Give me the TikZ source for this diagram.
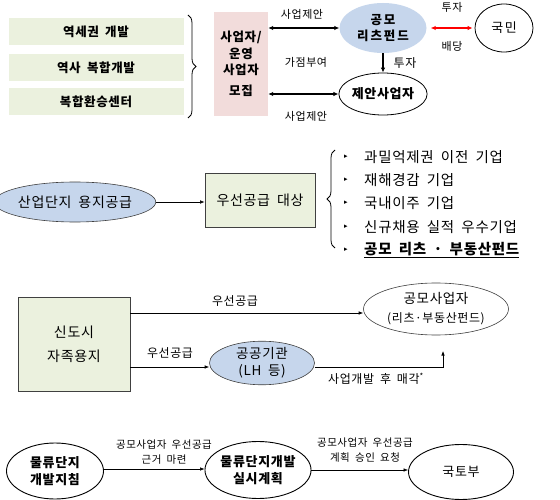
\documentclass[tikz,border=0pt]{standalone}
\usepackage{fontspec}
\setmainfont{Noto Sans CJK KR}[LetterSpace=5,WordSpace=1.8]
\newfontfamily\symfont{DejaVu Sans}
\usetikzlibrary{shapes.geometric,arrows.meta,decorations.pathreplacing}
\definecolor{lgreen}{HTML}{EBF1DE}
\definecolor{lpink}{HTML}{F2DCDB}
\definecolor{lblue}{HTML}{C6D6EC}
\definecolor{bord}{HTML}{404040}
\tikzset{
  gbox/.style={fill=lgreen, minimum width=175pt, minimum height=27pt, inner sep=0pt, font=\fontsize{12.5}{14}\selectfont\bfseries},
  ell/.style={ellipse, inner sep=0pt, align=center},
  darr/.style={line width=1.6pt, {Latex[length=5pt,width=4.5pt]}-{Latex[length=5pt,width=4.5pt]}},
  thk/.style={line width=1.6pt, -{Latex[length=5pt,width=4.5pt]}},
  arr/.style={line width=0.6pt, -{Latex[length=4.5pt,width=3.5pt]}},
  lbl/.style={inner sep=0pt, font=\fontsize{11}{13}\selectfont},
  mlbl/.style={inner sep=0pt, font=\fontsize{12}{14}\selectfont},
  slbl/.style={inner sep=0pt, font=\fontsize{10.5}{15}\selectfont, align=center},
  brace/.style={decorate, decoration={brace, amplitude=8pt}, line width=0.8pt},
  item/.style={anchor=west, inner sep=0pt, font=\fontsize{14.5}{16}\selectfont},
  bul/.style={inner sep=0pt, font=\symfont\fontsize{7}{8}\selectfont}
}
\begin{document}
\begin{tikzpicture}[x=1pt,y=-1pt]
\useasboundingbox[fill=white] (0,0) rectangle (560,500);

% ---------- Section 1 ----------
\node[gbox] (g1) at (96,31.5) {역세권 개발};
\node[gbox] (g2) at (96,67.5) {역사 복합개발};
\node[gbox] (g3) at (96,102) {복합환승센터};
\draw[brace] (188,15) -- (188,118);
\node[fill=lpink, minimum width=54pt, minimum height=104pt, inner sep=0pt, align=center,
      font=\fontsize{12.5}{16}\selectfont\bfseries] (pk) at (241,64)
      {사업자/\\[1pt]운영\\사업자\\[5pt]모집};
\node[ell, fill=lblue, minimum width=87pt, minimum height=50pt,
      font=\fontsize{12.5}{16}\selectfont\bfseries\addfontfeatures{LetterSpace=15}] (fund) at (383,28) {공모\\리츠펀드};
\node[ell, draw=black, line width=0.8pt, minimum width=58pt, minimum height=48pt,
      font=\fontsize{13}{15}\selectfont\addfontfeatures{LetterSpace=12}] (min) at (504,28) {국민};
\node[ell, draw=black, line width=0.8pt, minimum width=87pt, minimum height=42pt,
      font=\fontsize{13}{15}\selectfont\bfseries] (prop) at (383,94) {제안사업자};
\draw[darr] (pk.east |- fund) -- (fund.west);
\draw[darr] (pk.east |- prop) -- (prop.west);
\draw[darr, red] (fund.east) ++(4,0) coordinate (rs) (rs) -- ([xshift=-2pt]min.west);
\draw[thk] (fund.south) -- (prop.north);
\node[lbl] (l1) at (302,14) {사업제안};
\node[lbl] (l2) at (306,62) {가점부여};
\node[lbl] (l3) at (306,116) {사업제안};
\node[lbl] (l4) at (452,7) {투자};
\node[lbl] (l5) at (452,46) {배당};
\node[lbl, font=\fontsize{12}{14}\selectfont] (l6) at (405,63) {투자};

% ---------- Section 2 ----------
\node[ell, draw=bord, fill=lblue, line width=0.6pt, minimum width=140pt, minimum height=40pt,
      font=\fontsize{14}{15}\selectfont] (sup) at (75,202) {산업단지 용지공급};
\node[draw=bord, fill=lgreen, line width=0.8pt, minimum width=110pt, minimum height=54pt,
      font=\fontsize{14}{15}\selectfont] (tgt) at (260,200) {우선공급 대상};
\draw[arr] (sup.east) -- (tgt.west |- sup.east);
\draw[brace] (335,248) -- (335,150);
\node[bul] (b1) at (346,157) {▸};
\node[bul] (b2) at (346,180) {▸};
\node[bul] (b3) at (346,203) {▸};
\node[bul] (b4) at (346,227) {▸};
\node[bul] (b5) at (346,250) {▸};
\node[item] (i1) at (364,157) {과밀억제권 이전 기업};
\node[item] (i2) at (364,180) {재해경감 기업};
\node[item] (i3) at (364,203) {국내이주 기업};
\node[item] (i4) at (364,227) {신규채용 실적 우수기업};
\node[item, font=\fontsize{14.5}{16}\selectfont\bfseries] (i5) at (364,250) {\underline{공모 리츠 · 부동산펀드}};

% ---------- Section 3 ----------
\node[draw=bord, fill=lgreen, line width=0.6pt, minimum width=112pt, minimum height=94pt, align=center,
      font=\fontsize{14}{24}\selectfont] (nt) at (74,344) {신도시\\자족용지};
\node[ell, draw=bord, line width=0.6pt, minimum width=145pt, minimum height=52pt,
      font=\fontsize{13.5}{19}\selectfont] (pub) at (436,309) {공모사업자\\{\fontsize{12}{14}\selectfont(리츠·부동산펀드)}};
\node[ell, draw=bord, fill=lblue, line width=0.6pt, minimum width=105pt, minimum height=42pt,
      font=\fontsize{13.5}{17}\selectfont] (lh) at (262,363) {공공기관\\(LH 등)};
\draw[arr] (nt.east |- 0,313) -- (pub.west |- 0,313);
\draw[arr] (nt.east |- 0,367) -- (lh.west |- 0,367);
\coordinate (cn) at (443,367);
\coordinate (ct) at (443,351);
\draw[arr] (lh.east |- cn) -- (cn) -- (ct);
\node[mlbl] (m1) at (235,301) {우선공급};
\node[mlbl] (m2) at (170,353) {우선공급};
\node[mlbl] (m3) at (376,379) {사업개발 후 매각\textsuperscript{*}};

% ---------- Section 4 ----------
\node[ell, draw=black, line width=0.9pt, minimum width=97pt, minimum height=56pt,
      font=\fontsize{13}{17}\selectfont\bfseries] (e1) at (55,471) {물류단지\\개발지침};
\node[ell, draw=black, line width=0.9pt, minimum width=91pt, minimum height=57pt,
      font=\fontsize{13}{17}\selectfont\bfseries] (e2) at (258,470) {물류단지개발\\실시계획};
\node[ell, draw=black, line width=0.9pt, minimum width=105pt, minimum height=55pt,
      font=\fontsize{13}{15}\selectfont] (e3) at (461,472) {국토부};
\draw[arr] (e1.east |- 0,469) -- (e2.west |- 0,469);
\draw[arr] (e2.east |- 0,470) -- (e3.west |- 0,470);
\node[slbl] (n1) at (164,452) {공모사업자 우선공급\\근거 마련};
\node[slbl] (n2) at (365,450) {공모사업자 우선공급\\계획 승인 요청};
\end{tikzpicture}
\end{document}
